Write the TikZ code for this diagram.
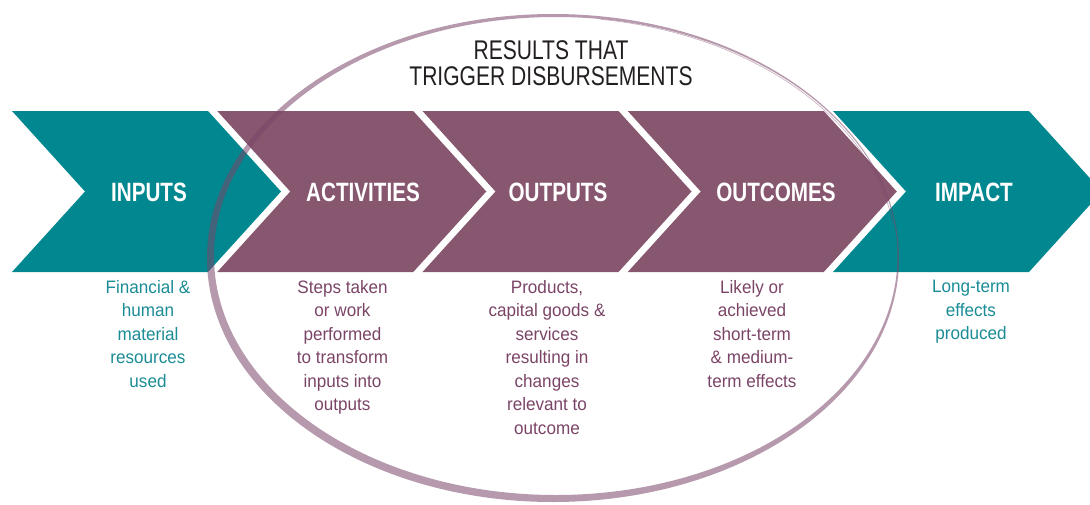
\documentclass[tikz,border=0pt]{standalone}
\usepackage{fontspec}
\setmainfont{Liberation Sans}
\newfontfamily\stagefont[FakeStretch=0.78]{Liberation Sans}
\newfontfamily\descfont[FakeStretch=0.95]{Liberation Sans}
\definecolor{chevteal}{HTML}{00878F}
\definecolor{chevplum}{HTML}{87566F}
\definecolor{txtteal}{HTML}{1A8C95}
\definecolor{txtplum}{HTML}{7A4466}
\definecolor{ringplum}{HTML}{7A4668}
\definecolor{titlegrey}{HTML}{231F20}

\begin{document}
\begin{tikzpicture}[x=1pt, y=-1pt,
    stage/.style={text=white, font=\stagefont\bfseries\fontsize{26.5}{28}\selectfont},
    desc/.style={anchor=north, align=center, inner sep=0pt, font=\descfont\fontsize{18}{23.5}\selectfont},
    ring/.style={fill=ringplum, opacity=0.55, even odd rule},
    streak/.style={draw=ringplum, opacity=0.45, line width=0.6pt}]
    \useasboundingbox (0,0) rectangle (1090,504);
    \begin{scope}
      \clip (0,0) rectangle (1090,504);
      \foreach \x/\c in {12/chevteal, 217.25/chevplum, 422.5/chevplum, 627.75/chevplum, 833/chevteal}
        \fill[\c] (\x,111) -- ++(196,0) -- ++(73,80.5) -- ++(-73,80.5) -- ++(-196,0) -- ++(73,-80.5) -- cycle;
    \end{scope}
    \fill[ring] (553,258) ellipse [x radius=346, y radius=244]
      (555.75,256) ellipse [x radius=341.75, y radius=239];
    \draw[streak] (553,258) ++(-82:343.5 and 241) arc [start angle=-82, end angle=-8, x radius=343.5, y radius=241];
    \node[stage] (inputs) at (149,192) {INPUTS};
    \node[stage] (activities) at (363,192) {ACTIVITIES};
    \node[stage] (outputs) at (558,192) {OUTPUTS};
    \node[stage] (outcomes) at (776,192) {OUTCOMES};
    \node[stage] (impact) at (974,192) {IMPACT};
    \node[desc, text=txtteal] (inputsdesc) at (148,280) {Financial \&\\human\\material\\resources\\used};
    \node[desc, text=txtplum] (activitiesdesc) at (342.5,280) {Steps taken\\or work\\performed\\to transform\\inputs into\\outputs};
    \node[desc, text=txtplum] (outputsdesc) at (547,280) {Products,\\capital goods \&\\services\\resulting in\\changes\\relevant to\\outcome};
    \node[desc, text=txtplum] (outcomesdesc) at (752,280) {Likely or\\achieved\\short-term\\\& medium-\\term effects};
    \node[desc, text=txtteal] (impactdesc) at (971,280) {Long-term\\effects\\produced};
    \node[align=center, text=titlegrey, font=\stagefont\fontsize{27}{26}\selectfont] (results) at (551,63) {RESULTS THAT\\TRIGGER DISBURSEMENTS};
\end{tikzpicture}
\end{document}
